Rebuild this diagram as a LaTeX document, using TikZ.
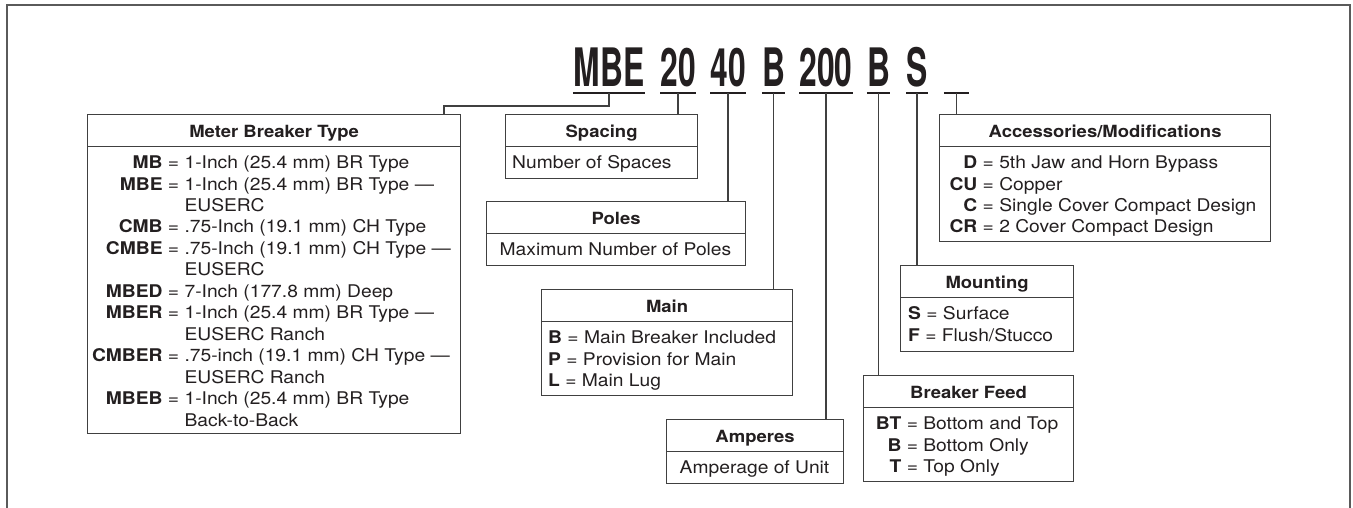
\documentclass[tikz,border=0pt]{standalone}
\usepackage{fontspec}
\setmainfont{TeX Gyre Heros}[FakeStretch=1.1]
\newfontfamily\codefont{TeX Gyre Heros}[FakeStretch=0.6]
\usetikzlibrary{math}
\definecolor{inkgray}{RGB}{35,31,32}
\definecolor{linegray}{RGB}{64,64,64}
\definecolor{framegray}{RGB}{90,90,90}
\newcommand{\bodyfont}{\fontsize{17.5}{21.5}\selectfont}
\newcommand{\headfont}{\fontsize{16.8}{20}\selectfont\bfseries}

\begin{document}
\begin{tikzpicture}[x=1pt,y=-1pt,
  code/.style={font=\codefont\fontsize{53}{56}\selectfont\bfseries, text=inkgray, anchor=south, inner xsep=0pt, inner ysep=6pt, text height=38pt, text depth=0pt},
  uline/.style={draw=inkgray, line width=2.6pt},
  box/.style={draw=linegray, line width=1.2pt, anchor=north west, inner sep=0pt},
  head/.style={draw=linegray, line width=1.2pt, anchor=north, inner sep=0pt, minimum height=32, text height=13pt, text depth=0pt, font=\headfont, text=inkgray},
  body/.style={inner sep=0pt, font=\bodyfont, text=inkgray},
  link/.style={draw=linegray, line width=1.2pt},
  frame/.style={draw=framegray, line width=2pt}]
\tikzmath{
\hd=32;
\bl=22.5;
}
\useasboundingbox (0,0) rectangle (1353,508);
%frame
\draw[frame] (7,508) -- (7,5) -- (1350,5) -- (1350,508);

%catalog number
\foreach \n/\cx/\w/\t in {MBE/609/72/MBE, 20/678/32/20, 40/728/32/40, B/773.5/21/B, 200/826/50/200, BB/878.5/23/B, S/917/20/S, X/956.5/25/{}}
{
  \node[code, minimum width=\w] (c\n) at (\cx,93) {\t};
  \draw[uline] (c\n.south west) -- (c\n.south east);
}

%meter breaker type
\node[box, minimum width=373, minimum height=319] (meter) at (87,114) {};
\node[head, minimum width=373] (meterh) at (meter.north) {Meter Breaker Type};
\node[body, anchor=base] (meterb) at (271.5,114+\hd+\bl) {\begin{tabular}[t]{@{}r@{\ }c@{\ }l@{}}
\textbf{MB} & = & 1-Inch (25.4 mm) BR Type\\
\textbf{MBE} & = & 1-Inch (25.4 mm) BR Type ---\\
 & & EUSERC\\
\textbf{CMB} & = & .75-Inch (19.1 mm) CH Type\\
\textbf{CMBE} & = & .75-Inch (19.1 mm) CH Type ---\\
 & & EUSERC\\
\textbf{MBED} & = & 7-Inch (177.8 mm) Deep\\
\textbf{MBER} & = & 1-Inch (25.4 mm) BR Type ---\\
 & & EUSERC Ranch\\
\textbf{CMBER} & = & .75-inch (19.1 mm) CH Type ---\\
 & & EUSERC Ranch\\
\textbf{MBEB} & = & 1-Inch (25.4 mm) BR Type\\
 & & Back-to-Back
\end{tabular}};

%spacing
\node[box, minimum width=192, minimum height=64] (spacing) at (505,114) {};
\node[head, minimum width=192] (spacingh) at (spacing.north) {Spacing};
\node[body, anchor=base west] (spacingb) at (512,114+\hd+\bl) {Number of Spaces};

%poles
\node[box, minimum width=259, minimum height=64] (poles) at (486,201) {};
\node[head, minimum width=259] (polesh) at (poles.north) {Poles};
\node[body, anchor=base] (polesb) at (615.5,201+\hd+\bl) {Maximum Number of Poles};

%main
\node[box, minimum width=251, minimum height=106] (main) at (541,289) {};
\node[head, minimum width=251] (mainh) at (main.north) {Main};
\node[body, anchor=base west] (mainb) at (548,289+\hd+\bl) {\begin{tabular}[t]{@{}l@{}}
\textbf{B} = Main Breaker Included\\
\textbf{P} = Provision for Main\\
\textbf{L} = Main Lug
\end{tabular}};

%amperes
\node[box, minimum width=177, minimum height=64] (amperes) at (666,419) {};
\node[head, minimum width=177] (amperesh) at (amperes.north) {Amperes};
\node[body, anchor=base] (amperesb) at (754.5,419+\hd+\bl) {Amperage of Unit};

%breaker feed
\node[box, minimum width=210, minimum height=106] (feed) at (863,375) {};
\node[head, minimum width=210] (feedh) at (feed.north) {Breaker Feed};
\node[body, anchor=base] (feedb) at (967,375+\hd+\bl) {\begin{tabular}[t]{@{}r@{\ }c@{\ }l@{}}
\textbf{BT} & = & Bottom and Top\\
\textbf{B} & = & Bottom Only\\
\textbf{T} & = & Top Only
\end{tabular}};

%mounting
\node[box, minimum width=173, minimum height=86] (mounting) at (900,265) {};
\node[head, minimum width=173] (mountingh) at (mounting.north) {Mounting};
\node[body, anchor=base west] (mountingb) at (908,265+\hd+\bl) {\begin{tabular}[t]{@{}l@{}}
\textbf{S} = Surface\\
\textbf{F} = Flush/Stucco
\end{tabular}};

%accessories
\node[box, minimum width=331, minimum height=127] (access) at (939,114) {};
\node[head, minimum width=331] (accessh) at (access.north) {Accessories/Modifications};
\node[body, anchor=base] (accessb) at (1103,114+\hd+\bl) {\begin{tabular}[t]{@{}r@{\ }c@{\ }l@{}}
\textbf{D} & = & 5th Jaw and Horn Bypass\\
\textbf{CU} & = & Copper\\
\textbf{C} & = & Single Cover Compact Design\\
\textbf{CR} & = & 2 Cover Compact Design
\end{tabular}};

%leaders
\coordinate (kMBE) at (444,106);
\draw[link] (cMBE.south) |- (kMBE) -- (kMBE |- meter.north);
\draw[link] (c20.south) -- (c20.south |- spacing.north);
\draw[link] (c40.south) -- (c40.south |- poles.north);
\draw[link] (cB.south) -- (cB.south |- main.north);
\draw[link] (c200.south) -- (c200.south |- amperes.north);
\draw[link] (cBB.south) -- (cBB.south |- feed.north);
\draw[link] (cS.south) -- (cS.south |- mounting.north);
\draw[link] (cX.south) -- (cX.south |- access.north);
\end{tikzpicture}
\end{document}
